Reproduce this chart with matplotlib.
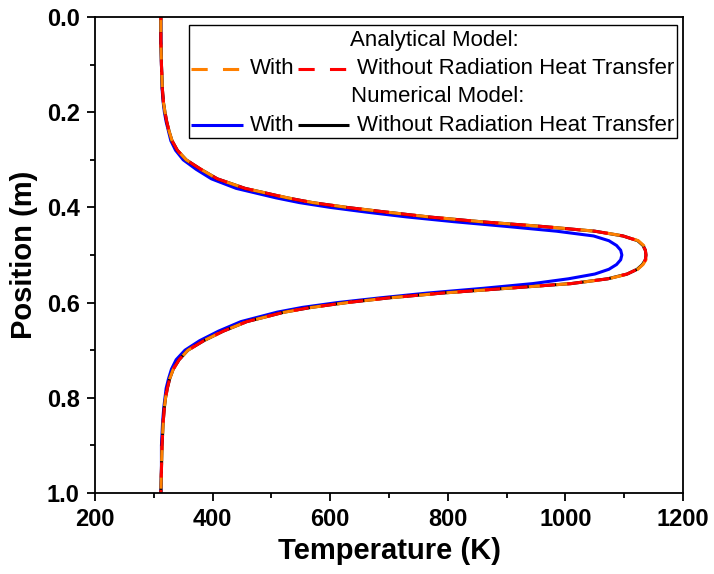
import matplotlib
matplotlib.use("Agg")
import matplotlib.pyplot as plt
from matplotlib.lines import Line2D
from matplotlib.patches import Rectangle
from matplotlib.ticker import MultipleLocator, FormatStrFormatter

plt.rcParams['font.family'] = ['Liberation Sans', 'DejaVu Sans']

# position along the channel (m)
position = [0.0, 0.05, 0.1, 0.15, 0.18, 0.2, 0.22, 0.24, 0.26, 0.28, 0.30,
            0.32, 0.34, 0.36, 0.38, 0.39, 0.40, 0.41, 0.42, 0.43, 0.44, 0.45,
            0.46, 0.47, 0.48, 0.49, 0.50, 0.51, 0.52, 0.53, 0.54, 0.55, 0.56,
            0.57, 0.58, 0.59, 0.60, 0.61, 0.62, 0.64, 0.66, 0.68, 0.70, 0.72,
            0.74, 0.76, 0.78, 0.80, 0.82, 0.85, 0.9, 0.95, 1.0]

# temperatures (K)
T_numerical_without = [312, 312, 313, 314.5, 316.5, 319, 322, 326, 331, 340, 355,
                       380, 408, 455, 527, 570, 628, 696, 767, 855, 960, 1050,
                       1098, 1123, 1132, 1136, 1137, 1136, 1131, 1122, 1105, 1072, 1010,
                       900, 790, 700, 628, 568, 522, 458, 418, 385, 358, 343,
                       333, 327, 323, 320, 318, 316, 314, 313, 312]
T_numerical_with = [312, 312, 313, 314, 316, 318, 321, 325, 329, 337, 350,
                    372, 398, 440, 508, 548, 600, 662, 730, 810, 900, 985,
                    1048, 1074, 1087, 1094, 1096, 1094, 1087, 1074, 1050, 1005, 945,
                    860, 765, 685, 612, 553, 510, 448, 410, 378, 353, 338,
                    330, 325, 321, 319, 317, 315, 313, 313, 312]
T_analytical_with = [312, 312, 313, 314.5, 316.5, 319, 322, 326, 331, 340, 355,
                     380, 408, 455, 528, 571, 629, 697, 768, 856, 961, 1051,
                     1099, 1124, 1133, 1137, 1138, 1137, 1132, 1123, 1106, 1073, 1011,
                     901, 791, 701, 629, 569, 523, 458, 418, 385, 358, 343,
                     333, 327, 323, 320, 318, 316, 314, 313, 312]
T_analytical_without = [312, 312, 313, 314.5, 316.5, 319, 322, 326, 331, 340, 355,
                        380, 408, 455, 527, 570, 628, 696, 767, 855, 960, 1050,
                        1098, 1123, 1132, 1136, 1137, 1136, 1131, 1122, 1105, 1072, 1010,
                        900, 790, 700, 628, 568, 522, 458, 418, 385, 358, 343,
                        333, 327, 323, 320, 318, 316, 314, 313, 312]

fig = plt.figure(figsize=(7.14, 5.74), dpi=100)
ax = fig.add_axes([95 / 714, 1 - 493 / 574, 588 / 714, 476 / 574])

lw = 2.2
ax.plot(T_numerical_with, position, color='#0000ff', lw=lw)
ax.plot(T_numerical_without, position, color='black', lw=lw)
ax.plot(T_analytical_with, position, color='#ff8000', lw=lw,
        linestyle=(0, (5, 4)), dash_capstyle='butt')
ax.plot(T_analytical_without, position, color='#ff0000', lw=lw,
        linestyle=(4, (5, 4)), dash_capstyle='butt')

ax.set_xlim(200, 1200)
ax.set_ylim(1.0, 0.0)
ax.xaxis.set_major_locator(MultipleLocator(200))
ax.xaxis.set_minor_locator(MultipleLocator(100))
ax.yaxis.set_major_locator(MultipleLocator(0.2))
ax.yaxis.set_minor_locator(MultipleLocator(0.1))
ax.yaxis.set_major_formatter(FormatStrFormatter('%.1f'))
ax.tick_params(which='major', direction='out', length=6, width=1.3,
               labelsize=17, pad=5)
ax.tick_params(which='minor', direction='out', length=3.5, width=1.3)
for lab in ax.get_xticklabels() + ax.get_yticklabels():
    lab.set_fontweight('bold')
for sp in ax.spines.values():
    sp.set_linewidth(1.3)

ax.set_xlabel('Temperature (K)', fontsize=21, fontweight='bold', labelpad=4)
ax.set_ylabel('Position (m)', fontsize=21, fontweight='bold', labelpad=6)

# legend box drawn by hand (centered header rows)
tr = ax.transAxes
ax.add_patch(Rectangle((0.160, 0.746), 0.830, 0.237, transform=tr,
                       facecolor='white', edgecolor='black', lw=1.0, zorder=5))
rows = [0.950, 0.891, 0.832, 0.773]
fs = 16
ax.text(0.578, rows[0], 'Analytical Model:', transform=tr, ha='center',
        va='center', fontsize=fs, zorder=6)
ax.text(0.582, rows[2], 'Numerical Model:', transform=tr, ha='center',
        va='center', fontsize=fs, zorder=6)
handles = [(rows[1], 0.163, 0.252, '#ff8000', True),
           (rows[1], 0.345, 0.432, '#ff0000', True),
           (rows[3], 0.163, 0.252, '#0000ff', False),
           (rows[3], 0.345, 0.432, 'black', False)]
for y, x0, x1, c, dashed in handles:
    ln = Line2D([x0, x1], [y, y], transform=tr, color=c, lw=lw, zorder=6,
                solid_capstyle='butt', dash_capstyle='butt')
    if dashed:
        ln.set_dashes((5.3, 5))
    ax.add_line(ln)
for y in (rows[1], rows[3]):
    ax.text(0.264, y, 'With', transform=tr, ha='left', va='center',
            fontsize=fs, zorder=6)
    ax.text(0.446, y, 'Without Radiation Heat Transfer', transform=tr,
            ha='left', va='center', fontsize=fs, zorder=6)

fig.savefig('out.png', dpi=100)
